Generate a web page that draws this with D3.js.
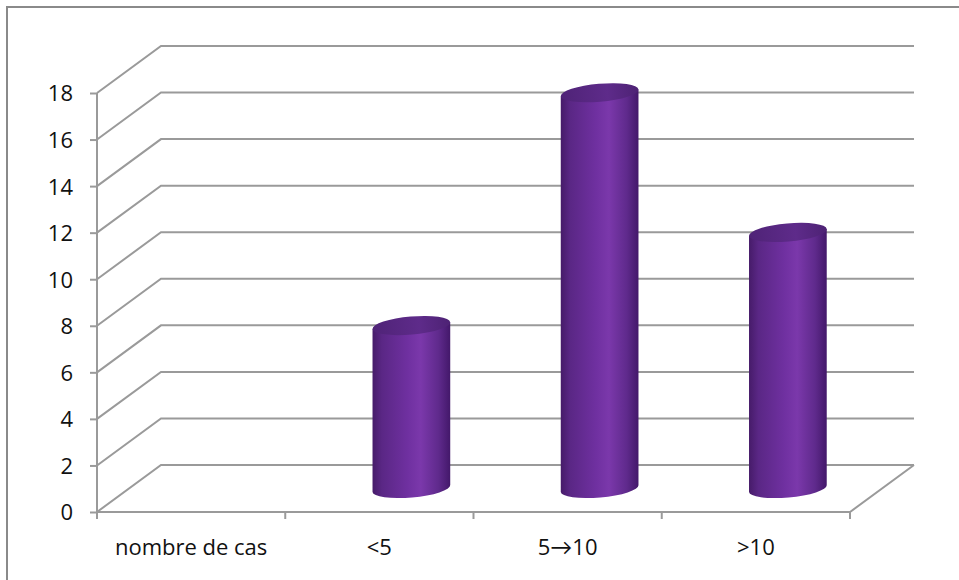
<!DOCTYPE html>
<html>
<head>
<meta charset="utf-8">
<script src="https://cdn.jsdelivr.net/npm/d3@7"></script>
<style>
  body { margin: 0; background: #fff; }
  svg { display: block; }
  text { font-family: "Open Sans", Lato, sans-serif; fill: #111; }
</style>
</head>
<body>
<div id="chart"></div>
<script>
const categories = ["nombre de cas", "<5", "5\u219210", ">10"];
const values = [0, 7, 17, 11];
const yTicks = [0, 2, 4, 6, 8, 10, 12, 14, 16, 18];

const W = 959, H = 580;
const depth = {dx: 64, dy: -47};   // 3D offset of the back wall

const svg = d3.select("#chart").append("svg")
  .attr("width", W)
  .attr("height", H);

// outer frame (only left and top edges show)
svg.append("path")
  .attr("d", `M7,${H} L7,7 L${W},7`)
  .attr("fill", "none")
  .attr("stroke", "#8a8a8a")
  .attr("stroke-width", 2);

const x = d3.scaleBand()
  .domain(categories)
  .range([97, 850]);

const y = d3.scaleLinear()
  .domain([0, 18])
  .range([512, 93]);

const grid = svg.append("g")
  .attr("fill", "none")
  .attr("stroke", "#9a9a9a")
  .attr("stroke-width", 2);

// back-wall gridlines with the diagonal on the side wall
grid.selectAll("path.grid")
  .data(yTicks)
  .join("path")
  .attr("class", "grid")
  .attr("d", d => {
    const x0 = x.range()[0], y0 = y(d);
    return `M${x0},${y0} L${x0 + depth.dx},${y0 + depth.dy} L${x.range()[1] + depth.dx},${y0 + depth.dy}`;
  });

// floor front edge + right side edge
grid.append("path")
  .attr("d", `M${x.range()[0]},${y(0)} L${x.range()[1]},${y(0)} L${x.range()[1] + depth.dx},${y(0) + depth.dy}`);

// y axis
const yAxis = svg.append("g")
  .attr("transform", `translate(${x.range()[0]},0)`)
  .call(d3.axisLeft(y).tickValues(yTicks).tickSize(7).tickPadding(17));
yAxis.selectAll("path, line").attr("stroke", "#9a9a9a").attr("stroke-width", 2);
yAxis.select(".domain").attr("d", `M0,${y(0)} V${y(18)}`);
yAxis.selectAll("text")
  .style("font-size", "22px")
  .attr("dy", "0.36em");

// x axis ticks at band boundaries
const bounds = categories.map(c => x(c)).concat([x.range()[1]]);
svg.append("g")
  .selectAll("line")
  .data(bounds)
  .join("line")
  .attr("x1", d => d).attr("x2", d => d)
  .attr("y1", y(0)).attr("y2", y(0) + 7)
  .attr("stroke", "#9a9a9a")
  .attr("stroke-width", 2);

svg.append("g")
  .selectAll("text")
  .data(categories)
  .join("text")
  .attr("x", d => x(d) + x.bandwidth() / 2)
  .attr("y", 555)
  .attr("text-anchor", "middle")
  .style("font-size", "22px")
  .text(d => d);

// cylinder gradients
const defs = svg.append("defs");
const bodyGrad = defs.append("linearGradient").attr("id", "cylBody");
[["0%", "#461b69"], ["12%", "#5a2785"], ["45%", "#6f30a0"], ["62%", "#7b38ab"], ["85%", "#5f2a8c"], ["100%", "#43186a"]]
  .forEach(([o, c]) => bodyGrad.append("stop").attr("offset", o).attr("stop-color", c));
const topGrad = defs.append("linearGradient").attr("id", "cylTop");
[["0%", "#4f2377"], ["60%", "#5e2b8a"], ["100%", "#4d2274"]]
  .forEach(([o, c]) => topGrad.append("stop").attr("offset", o).attr("stop-color", c));

const rx = 39, ry = 9, tilt = -5;
const th = tilt * Math.PI / 180;
const ex = rx * Math.cos(th), ey = rx * Math.sin(th);

const bars = categories.map((c, i) => ({cat: c, val: values[i]})).filter(d => d.val > 0);

const cyl = svg.append("g")
  .selectAll("g")
  .data(bars)
  .join("g");

const cx = d => x(d.cat) + x.bandwidth() / 2 + depth.dx / 2;
const yb = () => y(0) + depth.dy / 2;
const yt = d => y(d.val) + depth.dy / 2;

cyl.append("path")
  .attr("fill", "url(#cylBody)")
  .attr("d", d => {
    const c = cx(d), b = yb(), t = yt(d);
    return `M${c - ex},${t - ey} L${c - ex},${b - ey}` +
      ` A${rx},${ry} ${tilt} 0 0 ${c + ex},${b + ey}` +
      ` L${c + ex},${t + ey} Z`;
  });

cyl.append("ellipse")
  .attr("cx", d => cx(d))
  .attr("cy", d => yt(d))
  .attr("rx", rx)
  .attr("ry", ry)
  .attr("transform", d => `rotate(${tilt},${cx(d)},${yt(d)})`)
  .attr("fill", "url(#cylTop)");
</script>
</body>
</html>
